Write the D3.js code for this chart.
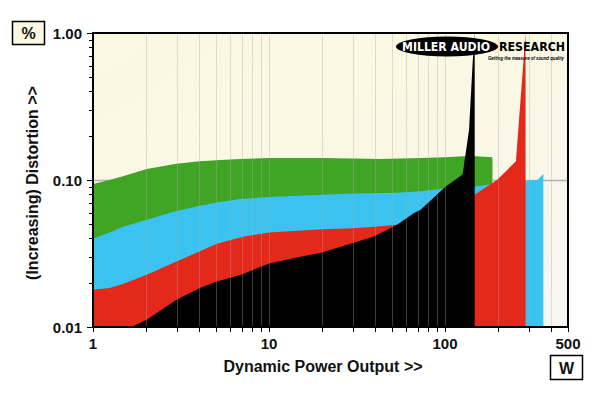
<!DOCTYPE html>
<meta charset="utf-8">
<style>

body {
  margin: 0;
  background: #fff;
  font-family: "Liberation Sans", Arial, sans-serif;
}

.tick-label {
  font-size: 15px;
  font-weight: bold;
  fill: #111;
}

.axis-title {
  font-size: 16px;
  font-weight: bold;
  fill: #111;
}

.grid {
  stroke: #a8a8a8;
  stroke-opacity: 0.35;
  stroke-width: 1px;
}

</style>
<body>
  <script src="https://d3js.org/d3.v7.min.js"></script>
  <script>

    // power (W) / distortion (%) pairs
    var greenW = [1, 1.24, 1.48, 2.02, 2.98, 4.05, 5.3, 6.84, 10, 20, 30, 43, 73, 100, 128, 150, 186];
    var greenD = [0.094, 0.1, 0.106, 0.119, 0.129, 0.134, 0.137, 0.139, 0.141, 0.141, 0.14, 0.139, 0.141, 0.143, 0.145, 0.145, 0.143];

    var blueW = [1, 1.24, 1.48, 2.02, 2.98, 4.05, 5.05, 6.84, 10, 20, 30, 53.5, 72.7, 103, 147.5, 186, 288, 335, 362];
    var blueD = [0.0399, 0.044, 0.048, 0.0537, 0.0615, 0.0668, 0.0704, 0.0742, 0.0766, 0.0794, 0.0808, 0.082, 0.0837, 0.088, 0.0904, 0.094, 0.0989, 0.1, 0.11];

    var redW = [1, 1.24, 1.48, 2.02, 2.98, 4.05, 5.05, 7, 10, 20, 30, 40, 53, 70, 100, 130, 147.5, 198, 253, 287];
    var redD = [0.0179, 0.0184, 0.0196, 0.0227, 0.0279, 0.0327, 0.0369, 0.041, 0.044, 0.0462, 0.047, 0.048, 0.0497, 0.054, 0.062, 0.072, 0.0794, 0.1005, 0.134, 1.0];

    var blackW = [1, 1.65, 2.02, 2.98, 4.05, 5.05, 7, 10, 15, 19.5, 30, 39.4, 53.5, 66.7, 72.7, 101, 126, 137, 143.6, 147.5];
    var blackD = [0.01, 0.01, 0.0112, 0.0153, 0.0184, 0.0204, 0.0228, 0.027, 0.03, 0.0319, 0.0373, 0.0413, 0.0497, 0.0597, 0.0628, 0.0904, 0.109, 0.22, 0.628, 1.0];

    var seriesColors = ["#40a524", "#3bc3ef", "#e4281a", "#000000"];

    var xTicks = [1, 10, 100, 500];
    var xTickLabels = ["1", "10", "100", "500"];
    var yTicks = [0.01, 0.1, 1];
    var yTickLabels = ["0.01", "0.10", "1.00"];

    var margin = {top: 33, right: 32, bottom: 66, left: 93},
        width = 600 - margin.left - margin.right,
        height = 393 - margin.top - margin.bottom;

    var x = d3.scaleLog()
        .domain([1, 500])
        .range([0, width]);

    var y = d3.scaleLog()
        .domain([0.01, 1])
        .range([height, 0]);

    var svg = d3.select("body").append("svg")
        .attr("width", 600)
        .attr("height", 393);

    var defs = svg.append("defs");
    var grad = defs.append("linearGradient")
        .attr("id", "bg")
        .attr("x1", 0).attr("y1", 0)
        .attr("x2", 1).attr("y2", 1);
    grad.append("stop").attr("offset", "0%").attr("stop-color", "#fbf8e1");
    grad.append("stop").attr("offset", "55%").attr("stop-color", "#faf7e4");
    grad.append("stop").attr("offset", "100%").attr("stop-color", "#f7f7f3");

    defs.append("clipPath")
        .attr("id", "plotclip")
      .append("rect")
        .attr("width", width)
        .attr("height", height);

    var g = svg.append("g")
        .attr("transform", "translate(" + margin.left + "," + margin.top + ")");

    g.append("rect")
        .attr("width", width)
        .attr("height", height)
        .attr("fill", "url(#bg)");

    // horizontal 0.10 line, behind the data
    g.append("line")
        .attr("x1", 0).attr("x2", width)
        .attr("y1", Math.round(y(0.1)) + 0.5).attr("y2", Math.round(y(0.1)) + 0.5)
        .attr("stroke", "#b0b0b0")
        .attr("stroke-width", 1.5);

    var area = d3.area()
        .x(function(d) { return x(d[0]); })
        .y0(height)
        .y1(function(d) { return y(d[1]); });

    var series = [
      d3.zip(greenW, greenD),
      d3.zip(blueW, blueD),
      d3.zip(redW, redD),
      d3.zip(blackW, blackD)
    ];

    g.append("g")
        .attr("clip-path", "url(#plotclip)")
      .selectAll("path")
      .data(series)
      .enter().append("path")
        .attr("d", area)
        .attr("fill", function(d, i) { return seriesColors[i]; });

    // vertical grid, drawn over the data
    var minorX = [];
    [1, 10, 100].forEach(function(dec) {
      for (var k = 2; k <= 10; k++) {
        if (dec * k < 500) minorX.push(dec * k);
      }
    });

    g.selectAll(".grid")
        .data(minorX)
      .enter().append("line")
        .attr("class", "grid")
        .attr("x1", function(d) { return Math.round(x(d)) + 0.5; })
        .attr("x2", function(d) { return Math.round(x(d)) + 0.5; })
        .attr("y1", 0)
        .attr("y2", height);

    // logo
    var logo = g.append("g");
    logo.append("ellipse")
        .attr("cx", 447 - margin.left)
        .attr("cy", 46.5 - margin.top)
        .attr("rx", 51)
        .attr("ry", 10)
        .attr("fill", "#000");
    logo.append("text")
        .attr("x", 402 - margin.left)
        .attr("y", 51 - margin.top)
        .attr("textLength", 88)
        .attr("lengthAdjust", "spacingAndGlyphs")
        .style("font-family", "'DejaVu Sans', sans-serif")
        .style("font-size", "12px")
        .style("font-weight", "bold")
        .style("fill", "#fff")
        .text("MILLER AUDIO");
    logo.append("text")
        .attr("x", 499 - margin.left)
        .attr("y", 51 - margin.top)
        .attr("textLength", 66)
        .attr("lengthAdjust", "spacingAndGlyphs")
        .style("font-family", "'DejaVu Sans', sans-serif")
        .style("font-size", "12px")
        .style("font-weight", "bold")
        .style("fill", "#000")
        .text("RESEARCH");
    logo.append("text")
        .attr("x", 488 - margin.left)
        .attr("y", 59.5 - margin.top)
        .attr("textLength", 76)
        .attr("lengthAdjust", "spacingAndGlyphs")
        .style("font-size", "4.5px")
        .style("font-weight", "bold")
        .style("font-style", "italic")
        .style("fill", "#000")
        .text("Getting the measure of sound quality");

    // frame
    g.append("rect")
        .attr("width", width)
        .attr("height", height)
        .attr("fill", "none")
        .attr("stroke", "#000")
        .attr("stroke-width", 2);

    // axes
    var minorY = [];
    [0.01, 0.1].forEach(function(dec) {
      for (var k = 1; k <= 10; k++) minorY.push(dec * k);
    });

    g.selectAll(".ytick")
        .data(minorY)
      .enter().append("line")
        .attr("stroke", "#000")
        .attr("x1", function(d) { return yTicks.some(function(t) { return Math.abs(t - d) < 1e-9; }) ? -6 : -4; })
        .attr("x2", -1)
        .attr("y1", function(d) { return Math.round(y(d)) + 0.5; })
        .attr("y2", function(d) { return Math.round(y(d)) + 0.5; });

    g.selectAll(".xtick")
        .data(minorX.concat([1, 500]))
      .enter().append("line")
        .attr("stroke", "#000")
        .attr("x1", function(d) { return Math.round(x(d)) + 0.5; })
        .attr("x2", function(d) { return Math.round(x(d)) + 0.5; })
        .attr("y1", height + 1)
        .attr("y2", height + 5);

    g.selectAll(".ylab")
        .data(yTicks)
      .enter().append("text")
        .attr("class", "tick-label")
        .attr("x", -11)
        .attr("y", function(d) { return y(d) + 5.5; })
        .style("text-anchor", "end")
        .text(function(d, i) { return yTickLabels[i]; });

    g.selectAll(".xlab")
        .data(xTicks)
      .enter().append("text")
        .attr("class", "tick-label")
        .attr("x", function(d) { return x(d); })
        .attr("y", height + 22)
        .style("text-anchor", "middle")
        .text(function(d, i) { return xTickLabels[i]; });

    svg.append("text")
        .attr("class", "axis-title")
        .attr("x", 323)
        .attr("y", 372)
        .style("text-anchor", "middle")
        .text("Dynamic Power Output >>");

    svg.append("text")
        .attr("class", "axis-title")
        .attr("transform", "translate(38,183) rotate(-90)")
        .style("text-anchor", "middle")
        .text("(Increasing) Distortion >>");

    // unit boxes
    svg.append("rect")
        .attr("x", 12.5).attr("y", 21.5)
        .attr("width", 32).attr("height", 23)
        .attr("fill", "#fbf8e1")
        .attr("stroke", "#000")
        .attr("stroke-width", 1.5);
    svg.append("text")
        .attr("class", "axis-title")
        .attr("x", 28.5).attr("y", 38.5)
        .style("text-anchor", "middle")
        .text("%");

    svg.append("rect")
        .attr("x", 550.5).attr("y", 355.5)
        .attr("width", 32).attr("height", 24)
        .attr("fill", "#fff")
        .attr("stroke", "#000")
        .attr("stroke-width", 1.5);
    svg.append("text")
        .attr("class", "axis-title")
        .attr("x", 566.5).attr("y", 373.5)
        .style("text-anchor", "middle")
        .text("W");

  </script>
</body>
</html>
